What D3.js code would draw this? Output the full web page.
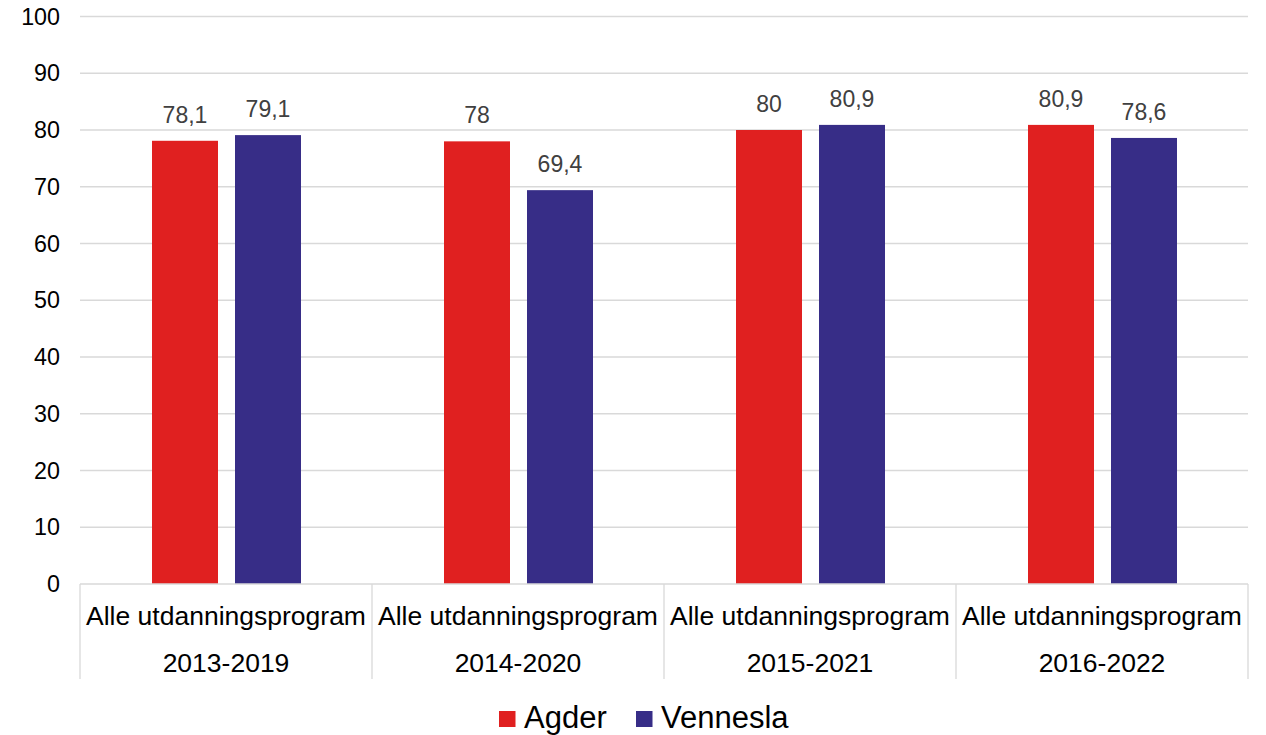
<!DOCTYPE html>
<html>
<head>
<meta charset="utf-8">
<script src="https://cdn.jsdelivr.net/npm/d3@7"></script>
<style>
  body { margin: 0; background: #fff; }
  svg { display: block; font-family: "Liberation Sans", Arial, sans-serif; }
</style>
</head>
<body>
<svg id="chart" width="1266" height="735"></svg>
<script>
// data
const periods = ["2013-2019", "2014-2020", "2015-2021", "2016-2022"];
const program = "Alle utdanningsprogram";
const seriesNames = ["Agder", "Vennesla"];
const agder = [78.1, 78, 80, 80.9];
const vennesla = [79.1, 69.4, 80.9, 78.6];
const yTicks = [0, 10, 20, 30, 40, 50, 60, 70, 80, 90, 100];

const colors = { Agder: "#E02020", Vennesla: "#372D87" };
const seriesData = { Agder: agder, Vennesla: vennesla };

const svg = d3.select("#chart");
const plotL = 80, plotR = 1248, plotT = 16.5, plotB = 584;

const x0 = d3.scaleBand().domain(periods).range([plotL, plotR]);
const x1 = d3.scaleBand().domain(seriesNames)
  .range([72, 221]).paddingInner(0.205).paddingOuter(0);
const y = d3.scaleLinear().domain([0, 100]).range([plotB, plotT]);

// gridlines
svg.append("g")
  .selectAll("line")
  .data(yTicks.filter(d => d > 0))
  .enter().append("line")
  .attr("x1", plotL).attr("x2", plotR)
  .attr("y1", d => y(d)).attr("y2", d => y(d))
  .attr("stroke", "#d9d9d9").attr("stroke-width", 1.3);

// y tick labels
svg.append("g")
  .selectAll("text")
  .data(yTicks)
  .enter().append("text")
  .attr("x", 60).attr("y", d => y(d))
  .attr("dy", "0.35em")
  .attr("text-anchor", "end")
  .attr("font-size", 23.3)
  .attr("fill", "#000")
  .text(d => d);

// bars
const rows = [];
periods.forEach((p, i) => {
  seriesNames.forEach(s => rows.push({ period: p, series: s, value: seriesData[s][i] }));
});

const fmt = v => String(v).replace(".", ",");

const bars = svg.append("g");
bars.selectAll("rect")
  .data(rows)
  .enter().append("rect")
  .attr("x", d => x0(d.period) + x1(d.series))
  .attr("width", x1.bandwidth())
  .attr("y", d => y(d.value))
  .attr("height", d => y(0) - y(d.value))
  .attr("fill", d => colors[d.series]);

bars.selectAll("text")
  .data(rows)
  .enter().append("text")
  .attr("x", d => x0(d.period) + x1(d.series) + x1.bandwidth() / 2)
  .attr("y", d => y(d.value) - 18)
  .attr("text-anchor", "middle")
  .attr("font-size", 23)
  .attr("fill", "#404040")
  .text(d => fmt(d.value));

// category axis (table style)
const axis = svg.append("g");
axis.append("line")
  .attr("x1", plotL).attr("x2", plotR)
  .attr("y1", plotB).attr("y2", plotB)
  .attr("stroke", "#d9d9d9").attr("stroke-width", 1.3);

const seps = periods.map(p => x0(p)).concat([plotR]);
axis.selectAll("line.sep")
  .data(seps)
  .enter().append("line")
  .attr("class", "sep")
  .attr("x1", d => d).attr("x2", d => d)
  .attr("y1", plotB).attr("y2", 679)
  .attr("stroke", "#d9d9d9").attr("stroke-width", 1.3);

axis.selectAll("text.prog")
  .data(periods)
  .enter().append("text")
  .attr("class", "prog")
  .attr("x", d => x0(d) + x0.bandwidth() / 2)
  .attr("y", 625)
  .attr("text-anchor", "middle")
  .attr("font-size", 26.5)
  .attr("fill", "#000")
  .text(program);

axis.selectAll("text.period")
  .data(periods)
  .enter().append("text")
  .attr("class", "period")
  .attr("x", d => x0(d) + x0.bandwidth() / 2)
  .attr("y", 671.5)
  .attr("text-anchor", "middle")
  .attr("font-size", 26.5)
  .attr("fill", "#000")
  .text(d => d);

// legend
const legendX = [499, 636];
const legend = svg.append("g");
const items = legend.selectAll("g")
  .data(seriesNames)
  .enter().append("g")
  .attr("transform", (d, i) => `translate(${legendX[i]},0)`);
items.append("rect")
  .attr("x", 0).attr("y", 711)
  .attr("width", 16.5).attr("height", 16)
  .attr("fill", d => colors[d]);
items.append("text")
  .attr("x", 25).attr("y", 727.5)
  .attr("font-size", 31)
  .attr("fill", "#000")
  .text(d => d);
</script>
</body>
</html>
